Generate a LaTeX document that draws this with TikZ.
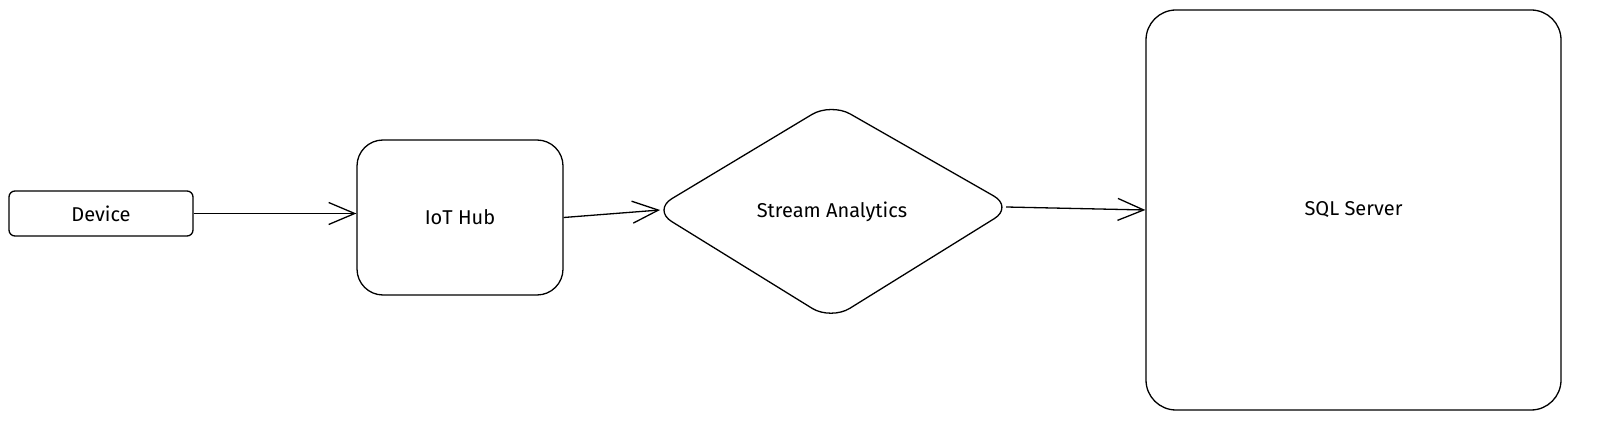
\documentclass[tikz,border=0pt]{standalone}
\usepackage{fontspec}
\setmainfont{Fira Sans}
\usetikzlibrary{shapes.geometric,arrows.meta}
\begin{document}
\begin{tikzpicture}[x=1pt,y=-1pt,
  lbl/.style={font=\fontsize{20}{24}\selectfont},
  box/.style={draw=black, line width=1.3pt, fill=white, inner sep=0pt, lbl},
  outline/.style={draw=black, line width=1.3pt, fill=white},
  conn/.style={draw=black, line width=1.3pt, -{Straight Barb[length=26pt,width=22pt,line width=1.3pt]}}]
\useasboundingbox (0,0) rectangle (1603,427);
\fill[white] (0,0) rectangle (1603,427);
\node[box, rounded corners=6pt, minimum width=184pt, minimum height=45pt] (dev) at (101,213.5) {Device};
\node[box, rounded corners=26pt, minimum width=206pt, minimum height=155pt] (iot) at (460,217.5) {IoT Hub};
% diamond outline
\coordinate (saL) at (653,210);
\coordinate (saT) at (831,103);
\coordinate (saR) at (1013,207);
\coordinate (saB) at (831,320);
\draw[outline, rounded corners=22pt] (saL) -- (saT) -- (saR) -- (saB) -- cycle;
\node[lbl] (sa) at (832,212) {Stream Analytics};
\coordinate (saIn) at (660,210);
\coordinate (saOut) at (1006,207);
\node[box, rounded corners=30pt, minimum width=415pt, minimum height=400pt] (sql) at (1353.5,210) {SQL Server};
\draw[conn] (dev.east) -- (iot.west |- dev.east);
\draw[conn] (iot.east) -- (saIn);
\draw[conn] (saOut) -- (sql.west);
\end{tikzpicture}
\end{document}
